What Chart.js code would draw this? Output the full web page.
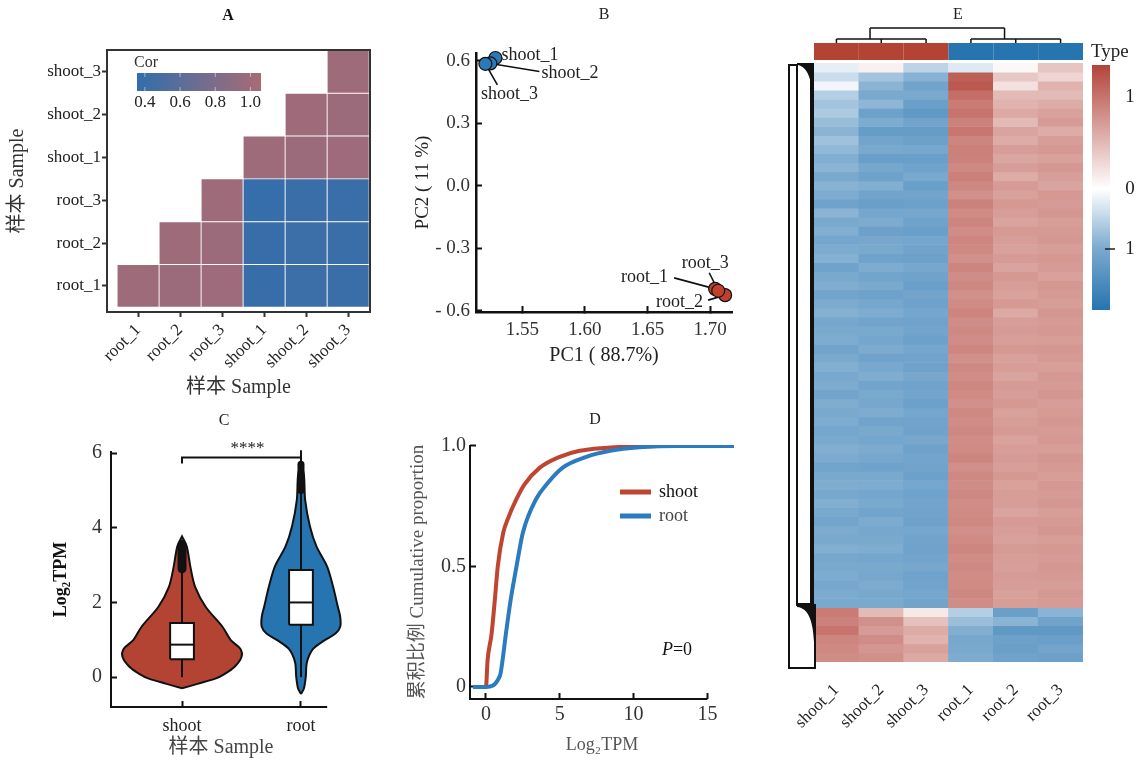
<!DOCTYPE html>
<html>
<head>
<meta charset="utf-8">
<script src="https://cdn.jsdelivr.net/npm/chart.js@4.4.0/dist/chart.umd.min.js"></script>
<style>
html, body { margin: 0; padding: 0; background: #fff; }
#wrap { position: relative; width: 1139px; height: 761px; overflow: hidden; }
canvas { position: absolute; }
</style>
</head>
<body>
<div id="wrap">
  <canvas id="chartA" width="390" height="400" style="left:0;top:0"></canvas>
  <canvas id="chartB" width="385" height="380" style="left:390px;top:0"></canvas>
  <canvas id="chartC" width="390" height="361" style="left:0;top:400px"></canvas>
  <canvas id="chartD" width="385" height="361" style="left:390px;top:400px"></canvas>
  <canvas id="chartE" width="364" height="761" style="left:775px;top:0"></canvas>
</div>
<script>
// ========== DATA ==========
// A: sample correlation
const corSamples = ['root_1', 'root_2', 'root_3', 'shoot_1', 'shoot_2', 'shoot_3'];
const corRows = [
  [1.00, 0.99, 0.995, 0.39, 0.42, 0.41],
  [0.99, 1.00, 0.99, 0.39, 0.42, 0.41],
  [0.995, 0.99, 1.00, 0.38, 0.41, 0.41],
  [0.39, 0.39, 0.38, 1.00, 0.99, 0.995],
  [0.42, 0.42, 0.41, 0.99, 1.00, 0.99],
  [0.41, 0.41, 0.41, 0.995, 0.99, 1.00]
];
const corLegendTicks = [0.4, 0.6, 0.8, 1.0];
const corLimits = [0.355, 1.06];

// B: PCA
const pcaNames = ['shoot_1', 'shoot_2', 'shoot_3', 'root_1', 'root_2', 'root_3'];
const pcaGroups = ['shoot', 'shoot', 'shoot', 'root', 'root', 'root'];
const pc1 = [1.5285, 1.5245, 1.5205, 1.7040, 1.7120, 1.7065];
const pc2 = [0.614, 0.588, 0.586, -0.494, -0.524, -0.503];
const pc1Ticks = [1.55, 1.60, 1.65, 1.70];
const pc2Ticks = [-0.6, -0.3, 0.0, 0.3, 0.6];

// C: violin + box
const violinGroups = ['shoot', 'root'];
const shootViolinY = [-0.3, -0.18, -0.04, 0.09, 0.27, 0.54, 0.76, 0.99, 1.35, 1.88, 2.42, 2.96, 3.5, 3.77];
const shootViolinW = [0, 0.13, 0.28, 0.36, 0.44, 0.50, 0.49, 0.41, 0.34, 0.20, 0.11, 0.07, 0.04, 0];
const rootViolinY = [-0.45, -0.3, 0, 0.4, 0.75, 0.99, 1.17, 1.35, 1.61, 1.88, 2.42, 2.96, 3.5, 4.04, 4.75, 5.4, 5.75];
const rootViolinW = [0, 0.025, 0.04, 0.05, 0.10, 0.20, 0.29, 0.33, 0.33, 0.31, 0.27, 0.22, 0.13, 0.075, 0.035, 0.025, 0];
const boxQ1 = [0.48, 1.40];
const boxMedian = [0.87, 2.00];
const boxQ3 = [1.45, 2.87];
const whiskerLow = [0, 0];
const whiskerHigh = [2.9, 5.0];
const outlierLow = [2.9, 5.0];
const outlierHigh = [3.55, 5.7];
const violinTicks = [0, 2, 4, 6];

// D: cumulative distribution
const cdfShootX = [-0.88, 0, 0.11, 0.38, 0.6, 0.8, 1.17, 1.5, 2.07, 2.6, 3.65, 5.0, 6.35, 8.0, 10.0, 12.0, 15.0];
const cdfShootY = [0, 0, 0.11, 0.22, 0.36, 0.5, 0.64, 0.70, 0.78, 0.84, 0.91, 0.955, 0.98, 0.992, 0.998, 1.0, 1.0];
const cdfRootX = [-0.88, 0, 0.95, 1.1, 1.35, 1.67, 2.07, 2.5, 3.4, 4.1, 5.2, 6.8, 8.4, 10.4, 13.0, 16.8];
const cdfRootY = [0, 0, 0.047, 0.1, 0.22, 0.36, 0.5, 0.64, 0.78, 0.84, 0.91, 0.955, 0.98, 0.995, 1.0, 1.0];
const cdfXTicks = [0, 5, 10, 15];
const cdfYTicks = [0, 0.5, 1.0];

// E: expression heatmap (row z-scores, top to bottom)
const heatSamples = ['shoot_1', 'shoot_2', 'shoot_3', 'root_1', 'root_2', 'root_3'];
const heatGroups = ['shoot', 'shoot', 'shoot', 'root', 'root', 'root'];
const heatShoot1 = [-0.15,-0.32,-0.08,-0.45,-0.55,-0.5,-0.62,-0.7,-0.58,-0.66,
  -0.75,-0.7,-0.8,-0.72,-0.78,-0.86,-0.7,-0.8,-0.76,-0.83,
  -0.78,-0.74,-0.86,-0.8,-0.77,-0.84,-0.79,-0.74,-0.82,-0.8,
  -0.78,-0.85,-0.8,-0.75,-0.81,-0.79,-0.84,-0.77,-0.8,-0.78,
  -0.83,-0.8,-0.76,-0.79,-0.85,-0.8,-0.77,-0.81,-0.76,-0.8,
  -0.84,-0.79,-0.8,-0.75,-0.82,-0.8,-0.78,-0.82,-0.79,-0.8,
  0.95,0.9,1.0,0.88,0.85,0.82];
const heatShoot2 = [0.1,-0.55,-0.7,-0.8,-0.68,-0.88,-0.78,-0.92,-0.84,-0.8,
  -0.9,-0.82,-0.87,-0.76,-0.85,-0.9,-0.83,-0.79,-0.88,-0.82,
  -0.8,-0.86,-0.78,-0.84,-0.8,-0.87,-0.82,-0.78,-0.85,-0.8,
  -0.83,-0.79,-0.86,-0.81,-0.77,-0.84,-0.8,-0.82,-0.78,-0.85,
  -0.8,-0.83,-0.79,-0.82,-0.86,-0.8,-0.78,-0.83,-0.8,-0.84,
  -0.79,-0.82,-0.8,-0.77,-0.83,-0.8,-0.82,-0.79,-0.81,-0.8,
  0.5,0.8,0.72,0.82,0.76,0.8];
const heatShoot3 = [-0.4,-0.72,-0.85,-0.8,-0.9,-0.95,-0.85,-0.92,-0.88,-0.82,
  -0.9,-0.86,-0.8,-0.9,-0.84,-0.88,-0.82,-0.86,-0.9,-0.83,
  -0.85,-0.88,-0.82,-0.86,-0.9,-0.84,-0.87,-0.83,-0.86,-0.84,
  -0.88,-0.83,-0.85,-0.87,-0.82,-0.86,-0.84,-0.88,-0.83,-0.85,
  -0.86,-0.82,-0.87,-0.84,-0.85,-0.88,-0.83,-0.86,-0.84,-0.85,
  -0.87,-0.83,-0.85,-0.86,-0.84,-0.82,-0.86,-0.85,-0.83,-0.85,
  0.15,0.45,0.6,0.55,0.68,0.62];
const heatRoot1 = [-0.2,1.15,1.2,1.05,0.95,1.0,0.9,0.98,0.88,0.92,
  0.9,0.85,0.92,0.86,0.8,0.9,0.84,0.88,0.82,0.87,
  0.85,0.8,0.88,0.83,0.86,0.8,0.84,0.88,0.82,0.85,
  0.83,0.87,0.8,0.85,0.82,0.86,0.84,0.8,0.85,0.83,
  0.86,0.82,0.84,0.88,0.81,0.85,0.83,0.86,0.82,0.84,
  0.85,0.81,0.84,0.87,0.82,0.85,0.83,0.84,0.86,0.83,
  -0.45,-0.6,-0.75,-0.82,-0.8,-0.78];
const heatRoot2 = [0.05,0.4,0.22,0.5,0.55,0.62,0.5,0.66,0.6,0.7,
  0.64,0.7,0.6,0.72,0.68,0.74,0.7,0.66,0.73,0.7,
  0.68,0.72,0.66,0.74,0.7,0.67,0.73,0.62,0.7,0.72,
  0.69,0.74,0.68,0.71,0.66,0.72,0.7,0.74,0.68,0.7,
  0.73,0.67,0.7,0.72,0.69,0.74,0.68,0.71,0.7,0.66,
  0.72,0.7,0.68,0.73,0.7,0.69,0.72,0.7,0.68,0.71,
  -0.9,-0.7,-0.95,-0.88,-0.9,-0.86];
const heatRoot3 = [0.42,0.3,0.55,0.5,0.6,0.68,0.72,0.6,0.7,0.74,
  0.68,0.75,0.7,0.66,0.74,0.72,0.76,0.7,0.73,0.75,
  0.7,0.74,0.72,0.68,0.75,0.73,0.7,0.76,0.72,0.74,
  0.71,0.75,0.73,0.69,0.74,0.72,0.76,0.7,0.73,0.75,
  0.72,0.74,0.7,0.76,0.73,0.71,0.74,0.72,0.75,0.7,
  0.73,0.76,0.71,0.74,0.72,0.75,0.73,0.7,0.74,0.72,
  -0.7,-0.85,-0.95,-0.9,-0.84,-0.88];
const heatLegendTicks = [1, 0, -1];

// ========== STYLE HELPERS ==========
const SERIF = "'Liberation Serif', 'Noto Sans CJK SC', serif";
Chart.defaults.font.family = SERIF;
Chart.defaults.color = '#222';
Chart.defaults.animation = false;
Chart.defaults.plugins.legend.display = false;
Chart.defaults.plugins.tooltip.enabled = false;

const shootRed = '#b34434';
const rootBlue = '#2675b1';

function f(size, extra) { return (extra ? extra + ' ' : '') + size + 'px ' + SERIF; }
function drawText(ctx, s, x, y, font, color, align, rot) {
  ctx.save();
  ctx.font = font;
  ctx.fillStyle = color || '#222';
  ctx.textAlign = align || 'center';
  ctx.textBaseline = 'middle';
  ctx.translate(x, y);
  if (rot) ctx.rotate(rot);
  ctx.fillText(s, 0, 0);
  ctx.restore();
}
function seg(ctx, x1, y1, x2, y2) { ctx.beginPath(); ctx.moveTo(x1, y1); ctx.lineTo(x2, y2); ctx.stroke(); }
function mix(c1, c2, t) { return c1.map((v, i) => Math.round(v + (c2[i] - v) * t)); }
function rgb(c) { return 'rgb(' + c[0] + ',' + c[1] + ',' + c[2] + ')'; }

const corLow = [49, 110, 172], corHigh = [168, 107, 118];
function corColor(v) {
  const t = Math.max(0, Math.min(1, (v - corLimits[0]) / (corLimits[1] - corLimits[0])));
  return rgb(mix(corLow, corHigh, t));
}
const heatLow = [39, 116, 176], heatMid = [255, 255, 255], heatHigh = [178, 68, 58];
function heatColor(z) {
  if (z >= 0) return rgb(mix(heatMid, heatHigh, Math.min(1, z / 1.35)));
  return rgb(mix(heatMid, heatLow, Math.min(1, -z / 1.3)));
}
const fixTicks = list => s => { s.ticks = list.map(v => ({ value: v })); };
const innerGrid = { drawOnChartArea: false, drawTicks: true, tickLength: -6, tickWidth: 2, tickColor: '#111' };

// ========== A: correlation heatmap ==========
const aFrame = {
  id: 'aFrame',
  afterDraw(chart) {
    const { ctx, chartArea: a } = chart;
    ctx.save();
    ctx.strokeStyle = '#333'; ctx.lineWidth = 2;
    ctx.strokeRect(a.left, a.top, a.right - a.left, a.bottom - a.top);
    drawText(ctx, 'A', 228, 16, f(16, 'bold'), '#111');
    // colour legend
    drawText(ctx, 'Cor', 134, 63, f(16), '#333', 'left');
    const x0 = 137, x1 = 261;
    const g = ctx.createLinearGradient(x0, 0, x1, 0);
    g.addColorStop(0, corColor(corLimits[0]));
    g.addColorStop(0.5, corColor((corLimits[0] + corLimits[1]) / 2));
    g.addColorStop(1, corColor(corLimits[1]));
    ctx.fillStyle = g;
    ctx.fillRect(x0, 73, x1 - x0, 18);
    ctx.strokeStyle = 'rgba(255,255,255,0.5)'; ctx.lineWidth = 1;
    corLegendTicks.forEach(v => {
      const px = x0 + (v - corLimits[0]) / (corLimits[1] - corLimits[0]) * (x1 - x0);
      seg(ctx, px, 73, px, 77); seg(ctx, px, 87, px, 91);
      drawText(ctx, v.toFixed(1), px, 103, f(17), '#222');
    });
    ctx.restore();
  }
};

const aSets = corSamples.map((rowName, r) => ({
  label: rowName,
  data: corSamples.map((colName, c) => ({ x: c, y: [r - 0.5, r + 0.5], v: corRows[r][c] })).filter(p => p.x >= r),
  backgroundColor: ctx => ctx.raw ? corColor(ctx.raw.v) : '#999',
  borderColor: 'rgba(255,255,255,0.35)',
  borderWidth: 0.8,
  borderSkipped: false,
  grouped: false,
  barPercentage: 1,
  categoryPercentage: 1
}));

new Chart(document.getElementById('chartA'), {
  type: 'bar',
  data: { datasets: aSets },
  options: {
    responsive: false, devicePixelRatio: 1,
    layout: { padding: { top: 50, right: 20, left: 0, bottom: 0 } },
    scales: {
      x: {
        type: 'linear', min: -0.74, max: 5.52, offset: false,
        afterBuildTicks: fixTicks(corSamples.map((_, i) => i)),
        afterFit: s => { s.height = 88; },
        ticks: { callback: v => corSamples[v], maxRotation: 45, minRotation: 45, autoSkip: false, font: { size: 17 }, color: '#222', padding: 3 },
        grid: { offset: false, drawOnChartArea: false, drawTicks: true, tickLength: 5, tickWidth: 2, tickColor: '#333' },
        border: { display: false },
        title: { display: true, text: '样本 Sample', font: { size: 20 }, color: '#333', padding: { top: 0, bottom: 0 } }
      },
      y: {
        type: 'linear', min: -0.61, max: 5.51,
        afterBuildTicks: fixTicks(corSamples.map((_, i) => i)),
        afterFit: s => { s.width = 107; },
        ticks: { callback: v => corSamples[v], autoSkip: false, font: { size: 17 }, color: '#222', padding: 1 },
        grid: { drawOnChartArea: false, drawTicks: true, tickLength: 5, tickWidth: 2, tickColor: '#333' },
        border: { display: false },
        title: { display: true, text: '样本 Sample', font: { size: 20 }, color: '#333', padding: { top: 6, bottom: 0 } }
      }
    }
  },
  plugins: [aFrame]
});

// ========== B: PCA ==========
// label placement (pixel offsets from each point)
const pcaLabelPos = [
  { dx: 6, dy: -3, align: 'left' },
  { dx: 51, dy: 10, align: 'left', lx: 49, ly: 8 },
  { dx: 24, dy: 30, align: 'center', lx: 12, ly: 21 },
  { dx: -47, dy: -12, align: 'right', lx: -41, ly: -11 },
  { dx: -22, dy: 7, align: 'right', lx: -17, ly: 5 },
  { dx: -13, dy: -27, align: 'center', lx: -9, ly: -18 }
];
const bLabels = {
  id: 'bLabels',
  beforeDatasetsDraw(chart) {
    const { ctx, scales: { x, y } } = chart;
    ctx.save();
    ctx.strokeStyle = '#111'; ctx.lineWidth = 1.6;
    pcaNames.forEach((n, i) => {
      const p = pcaLabelPos[i];
      if (p.lx === undefined) return;
      const px = x.getPixelForValue(pc1[i]), py = y.getPixelForValue(pc2[i]);
      seg(ctx, px, py, px + p.lx, py + p.ly);
    });
    ctx.restore();
  },
  afterDraw(chart) {
    const { ctx, scales: { x, y } } = chart;
    drawText(ctx, 'B', 214, 15, f(16), '#222');
    pcaNames.forEach((n, i) => {
      const p = pcaLabelPos[i];
      const px = x.getPixelForValue(pc1[i]), py = y.getPixelForValue(pc2[i]);
      drawText(ctx, n, px + p.dx, py + p.dy, f(18), '#222', p.align);
    });
  }
};
const pcaPoints = g => pcaNames.map((n, i) => ({ x: pc1[i], y: pc2[i], g: pcaGroups[i] })).filter(p => p.g === g);

new Chart(document.getElementById('chartB'), {
  type: 'scatter',
  data: {
    datasets: [
      { label: 'shoot', data: pcaPoints('shoot'), backgroundColor: '#2b79b6', borderColor: '#111', borderWidth: 1.2, pointRadius: 6.5, clip: false },
      { label: 'root', data: pcaPoints('root'), backgroundColor: '#bf402c', borderColor: '#111', borderWidth: 1.2, pointRadius: 6.5, clip: false }
    ]
  },
  options: {
    responsive: false, devicePixelRatio: 1,
    layout: { padding: { top: 53, right: 43, left: 0, bottom: 0 } },
    scales: {
      x: {
        type: 'linear', min: 1.513, max: 1.7175,
        afterBuildTicks: fixTicks(pc1Ticks),
        afterFit: s => { s.height = 68; },
        ticks: { callback: v => v.toFixed(2), font: { size: 19 }, color: '#333', padding: 13 },
        grid: innerGrid,
        border: { display: true, color: '#111', width: 2.5 },
        title: { display: true, text: 'PC1 ( 88.7%)', font: { size: 20 }, color: '#222', padding: { top: 0, bottom: 12 } }
      },
      y: {
        type: 'linear', min: -0.605, max: 0.638,
        afterBuildTicks: fixTicks(pc2Ticks),
        afterFit: s => { s.width = 86; },
        ticks: { callback: v => (v < 0 ? '- ' + Math.abs(v).toFixed(1) : v.toFixed(1)), font: { size: 19 }, color: '#333', padding: 12 },
        grid: innerGrid,
        border: { display: true, color: '#111', width: 2.5 },
        title: { display: true, text: 'PC2 ( 11 %)', font: { size: 19 }, color: '#222', padding: { top: 22, bottom: 0 } }
      }
    }
  },
  plugins: [bLabels]
});

// ========== C: violin plot ==========
function violinShape(center, ys, ws) {
  const right = ys.map((y, i) => ({ x: center + ws[i], y }));
  const left = ys.map((y, i) => ({ x: center - ws[i], y })).reverse();
  return right.concat(left);
}
const boxHalf = 0.1;
const cSets = [];
const violinY = [shootViolinY, rootViolinY];
const violinW = [shootViolinW, rootViolinW];
const violinFill = [shootRed, rootBlue];
violinGroups.forEach((g, i) => {
  const c = i + 1;
  cSets.push({ data: violinShape(c, violinY[i], violinW[i]), fill: 'shape', backgroundColor: violinFill[i], borderColor: '#111', borderWidth: 2, pointRadius: 0, tension: 0.3, order: 5, clip: false });
  cSets.push({ data: [{ x: c, y: whiskerLow[i] }, { x: c, y: whiskerHigh[i] }], borderColor: '#111', borderWidth: 2, pointRadius: 0, order: 4 });
  cSets.push({ data: [{ x: c, y: outlierLow[i] }, { x: c, y: outlierHigh[i] }], borderColor: '#111', borderWidth: i === 0 ? 9 : 7, borderCapStyle: 'round', pointRadius: 0, order: 3 });
  cSets.push({
    data: [{ x: c - boxHalf, y: boxQ1[i] }, { x: c + boxHalf, y: boxQ1[i] }, { x: c + boxHalf, y: boxQ3[i] }, { x: c - boxHalf, y: boxQ3[i] }, { x: c - boxHalf, y: boxQ1[i] }],
    fill: 'shape', backgroundColor: '#fff', borderColor: '#111', borderWidth: 2, pointRadius: 0, tension: 0, order: 2
  });
  cSets.push({ data: [{ x: c - boxHalf, y: boxMedian[i] }, { x: c + boxHalf, y: boxMedian[i] }], borderColor: '#111', borderWidth: 2, pointRadius: 0, order: 1 });
});
cSets.push({ data: [{ x: 1, y: 5.72 }, { x: 1, y: 5.88 }, { x: 2, y: 5.88 }, { x: 2, y: 6.08 }], borderColor: '#111', borderWidth: 2, pointRadius: 0, order: 0, clip: false });
cSets.push({ data: [{ x: 2, y: 5.88 }, { x: 2, y: 5.72 }], borderColor: '#111', borderWidth: 2, pointRadius: 0, order: 0, clip: false });

const cText = {
  id: 'cText',
  afterDraw(chart) {
    const { ctx, chartArea: a, scales: { x, y } } = chart;
    ctx.save();
    ctx.strokeStyle = '#111'; ctx.lineWidth = 2;
    seg(ctx, a.left - 1, a.bottom, x.getPixelForValue(2.22), a.bottom);
    ctx.restore();
    drawText(ctx, 'C', 224, 21, f(16), '#222');
    drawText(ctx, '****', x.getPixelForValue(1.55), y.getPixelForValue(5.88) - 9, f(17), '#222');
    drawText(ctx, '样本 Sample', 221, 348, f(20), '#444');
  }
};

new Chart(document.getElementById('chartC'), {
  type: 'line',
  data: { datasets: cSets },
  options: {
    responsive: false, devicePixelRatio: 1,
    layout: { padding: { top: 52, right: 45, left: 0, bottom: 0 } },
    scales: {
      x: {
        type: 'linear', min: 0.403, max: 2.37,
        afterBuildTicks: fixTicks([1, 2]),
        afterFit: s => { s.height = 54; },
        ticks: { callback: v => violinGroups[v - 1], font: { size: 18 }, color: '#222', padding: 14 },
        grid: innerGrid,
        border: { display: false },
        title: { display: false }
      },
      y: {
        type: 'linear', min: -0.8, max: 6.03,
        afterBuildTicks: fixTicks(violinTicks),
        afterFit: s => { s.width = 111; },
        ticks: { font: { size: 20 }, color: '#333', padding: 15 },
        grid: innerGrid,
        border: { display: true, color: '#111', width: 2 },
        title: { display: true, text: 'Log₂TPM', font: { size: 18, weight: 'bold' }, color: '#111', padding: { top: 51, bottom: 0 } }
      }
    }
  },
  plugins: [cText]
});

// ========== D: cumulative proportion ==========
const dDecor = {
  id: 'dDecor',
  afterDraw(chart) {
    const { ctx, chartArea: a, scales: { x } } = chart;
    ctx.save();
    ctx.strokeStyle = '#111'; ctx.lineWidth = 2;
    seg(ctx, a.left, a.top, a.left, a.bottom + 1);
    seg(ctx, a.left - 1, a.bottom, x.getPixelForValue(15), a.bottom);
    ctx.lineWidth = 5;
    ctx.strokeStyle = '#bf4531'; seg(ctx, 230, 92, 261, 92);
    ctx.strokeStyle = '#2a7bbf'; seg(ctx, 230, 116, 261, 116);
    ctx.restore();
    drawText(ctx, 'D', 205, 20, f(16), '#222');
    drawText(ctx, 'shoot', 269, 92, f(18), '#111', 'left');
    drawText(ctx, 'root', 269, 116, f(18), '#444', 'left');
    ctx.save();
    ctx.font = f(18, 'italic');
    const wP = ctx.measureText('P').width;
    ctx.font = f(18);
    const wR = ctx.measureText('=0').width;
    const sx = 287 - (wP + wR) / 2;
    drawText(ctx, 'P', sx, 250, f(18, 'italic'), '#111', 'left');
    drawText(ctx, '=0', sx + wP, 250, f(18), '#111', 'left');
    ctx.restore();
  }
};
const toPts = (xs, ys) => xs.map((v, i) => ({ x: v, y: ys[i] }));

new Chart(document.getElementById('chartD'), {
  type: 'line',
  data: {
    datasets: [
      { label: 'shoot', data: toPts(cdfShootX, cdfShootY), borderColor: '#bf4531', borderWidth: 4, pointRadius: 0, cubicInterpolationMode: 'monotone', order: 1 },
      { label: 'root', data: toPts(cdfRootX, cdfRootY), borderColor: '#2a7bbf', borderWidth: 4, pointRadius: 0, cubicInterpolationMode: 'monotone', order: 0 }
    ]
  },
  options: {
    responsive: false, devicePixelRatio: 1,
    layout: { padding: { top: 45, right: 41, left: 0, bottom: 0 } },
    scales: {
      x: {
        type: 'linear', min: -1.08, max: 16.8,
        afterBuildTicks: fixTicks(cdfXTicks),
        afterFit: s => { s.height = 62; },
        ticks: { font: { size: 20 }, color: '#333', padding: 10 },
        grid: innerGrid,
        border: { display: false },
        title: { display: true, text: 'Log₂TPM', font: { size: 18 }, color: '#555', padding: { top: 0, bottom: 5 } }
      },
      y: {
        type: 'linear', min: -0.05, max: 1.004,
        afterBuildTicks: fixTicks(cdfYTicks),
        afterFit: s => { s.width = 80; },
        ticks: { callback: v => (v === 0 ? '0' : v.toFixed(1)), font: { size: 20 }, color: '#333', padding: 10 },
        grid: innerGrid,
        border: { display: false },
        title: { display: true, text: '累积比例 Cumulative proportion', font: { size: 19 }, color: '#555', padding: { top: 17, bottom: 0 } }
      }
    }
  },
  plugins: [dDecor]
});

// ========== E: expression heatmap ==========
const heatColumns = [heatShoot1, heatShoot2, heatShoot3, heatRoot1, heatRoot2, heatRoot3];
const nRows = heatShoot1.length;
const eSets = [];
for (let r = 0; r < nRows; r++) {
  eSets.push({
    data: heatSamples.map(() => 1),
    backgroundColor: heatColumns.map(col => heatColor(col[r])),
    borderWidth: 0, barPercentage: 1, categoryPercentage: 1
  });
}
const eDecor = {
  id: 'eDecor',
  afterDraw(chart) {
    const { ctx, chartArea: a, scales: { x } } = chart;
    drawText(ctx, 'E', 183, 15, f(16), '#222');
    const half = (a.right - a.left) / heatSamples.length / 2;
    const cx = heatSamples.map((_, i) => x.getPixelForValue(i));
    ctx.save();
    // group annotation bar
    heatSamples.forEach((s, i) => {
      ctx.fillStyle = heatGroups[i] === 'shoot' ? shootRed : rootBlue;
      ctx.fillRect(cx[i] - half, 43, half * 2, 17);
    });
    // column dendrogram
    ctx.strokeStyle = '#111'; ctx.lineWidth = 1.5;
    [[0, 1, 2], [3, 4, 5]].forEach(g => {
      const [p, q, r] = g.map(i => cx[i]);
      seg(ctx, p, 39, r, 39); seg(ctx, p, 39, p, 43); seg(ctx, q, 39, q, 43); seg(ctx, r, 39, r, 43);
    });
    const jL = (cx[0] + (cx[1] + cx[2]) / 2) / 2, jR = (cx[3] + (cx[4] + cx[5]) / 2) / 2;
    seg(ctx, jL, 28, jL, 39); seg(ctx, jR, 28, jR, 39); seg(ctx, jL, 28, jR, 28);
    // row dendrogram (dense gene tree)
    ctx.fillStyle = '#111';
    ctx.fillRect(35, 63, 4, 542);
    ctx.beginPath(); ctx.moveTo(22, 63); ctx.lineTo(39, 63); ctx.lineTo(39, 105);
    ctx.bezierCurveTo(37, 80, 33, 66, 22, 65); ctx.closePath(); ctx.fill();
    ctx.beginPath(); ctx.moveTo(22, 603); ctx.lineTo(39, 603); ctx.lineTo(39, 642);
    ctx.bezierCurveTo(38, 622, 34, 608, 22, 607); ctx.closePath(); ctx.fill();
    ctx.lineWidth = 2;
    seg(ctx, 14, 64, 14, 669); seg(ctx, 13, 65, 23, 65); seg(ctx, 22, 64, 22, 606);
    seg(ctx, 13, 668, 41, 668); seg(ctx, 40, 604, 40, 669);
    // colour key
    const top = 65, bot = 310;
    const g = ctx.createLinearGradient(0, top, 0, bot);
    g.addColorStop(0, heatColor(1.35));
    g.addColorStop((97 - top) / (bot - top), heatColor(1.0));
    g.addColorStop((189 - top) / (bot - top), heatColor(0));
    g.addColorStop((249 - top) / (bot - top), heatColor(-0.8));
    g.addColorStop(1, heatColor(-1.3));
    ctx.fillStyle = g;
    ctx.fillRect(317, top, 18, bot - top);
    ctx.strokeStyle = '#222'; ctx.lineWidth = 1.5;
    seg(ctx, 330, 249, 340, 249);
    ctx.restore();
    drawText(ctx, 'Type', 316, 52, f(19), '#222', 'left');
    const keyY = [97, 189, 249];
    heatLegendTicks.forEach((v, i) => drawText(ctx, String(Math.abs(v)), 355, keyY[i], f(19), '#222'));
  }
};

new Chart(document.getElementById('chartE'), {
  type: 'bar',
  data: { labels: heatSamples, datasets: eSets },
  options: {
    responsive: false, devicePixelRatio: 1,
    layout: { padding: { top: 63, right: 56, left: 39, bottom: 0 } },
    scales: {
      x: {
        stacked: true,
        afterFit: s => { s.height = 99; },
        grid: { display: false, drawTicks: false },
        border: { display: false },
        ticks: { maxRotation: 45, minRotation: 45, autoSkip: false, font: { size: 17 }, color: '#222', padding: 18 }
      },
      y: { stacked: true, display: false, min: 0, max: nRows, reverse: true }
    }
  },
  plugins: [eDecor]
});
</script>
</body>
</html>
